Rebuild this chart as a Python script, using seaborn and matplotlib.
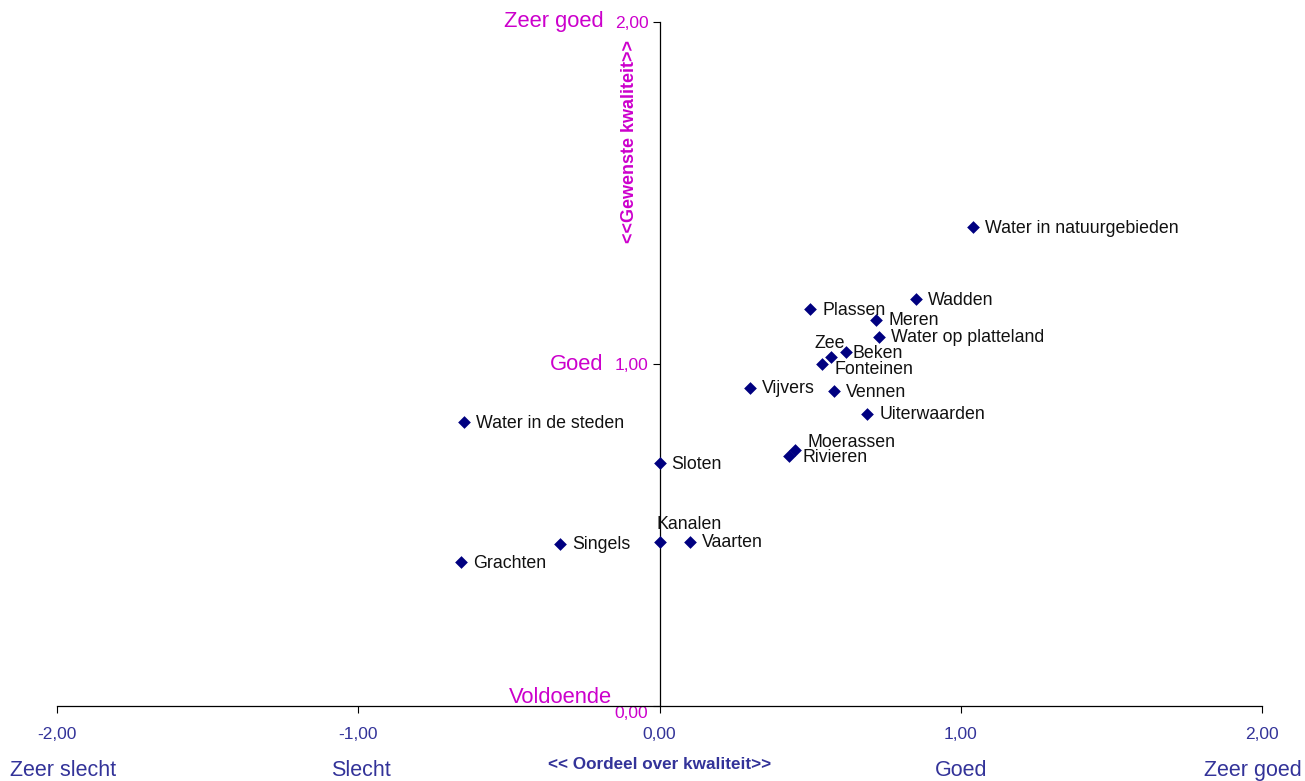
import numpy as np
import pandas as pd
import matplotlib
matplotlib.use("Agg")
import matplotlib.pyplot as plt
import seaborn as sns

# data
names = ["Water in natuurgebieden", "Wadden", "Plassen", "Meren", "Water op platteland",
         "Beken", "Zee", "Fonteinen", "Vijvers", "Vennen", "Uiterwaarden",
         "Water in de steden", "Moerassen", "Rivieren", "Sloten", "Kanalen",
         "Vaarten", "Singels", "Grachten"]
oordeel = [1.04, 0.85, 0.50, 0.72, 0.73, 0.62, 0.57, 0.54, 0.30, 0.58, 0.69,
           -0.65, 0.45, 0.43, 0.00, 0.00, 0.10, -0.33, -0.66]
gewenst = [1.40, 1.19, 1.16, 1.13, 1.08, 1.035, 1.02, 1.00, 0.93, 0.92, 0.855,
           0.83, 0.75, 0.73, 0.71, 0.48, 0.48, 0.475, 0.42]

x_ticks = [-2, -1, 0, 1, 2]
y_ticks = [0, 1, 2]
x_cat = ["Zeer slecht", "Slecht", "Goed", "Zeer goed"]
x_cat_pos = [-1.98, -0.99, 1.00, 1.97]
y_cat = ["Zeer goed", "Goed", "Voldoende"]
y_cat_pos = [2.0, 1.0, 0.025]

# label offsets in pixels (dx, dy, ha)
offsets = {
    "Zee": (-1, 5, "center"),
    "Kanalen": (-3, 17, "left"),
    "Moerassen": (12, 7, "left"),
    "Rivieren": (13, -1, "left"),
    "Fonteinen": (12, -6, "left"),
    "Beken": (6, -1, "left"),
}

df = pd.DataFrame({"naam": names, "x": oordeel, "y": gewenst})

sns.set_style("white")
plt.rcParams["font.family"] = ["Liberation Sans", "DejaVu Sans"]

blue = "#333399"
magenta = "#CC00CC"

fig = plt.figure(figsize=(13.05, 7.81), dpi=100)
ax = fig.add_axes([57 / 1305, 1 - 706 / 781, (1262 - 57) / 1305, (706 - 22) / 781])

sns.scatterplot(data=df, x="x", y="y", marker="D", s=42, color="#000080",
                edgecolor="#000080", linewidth=0, ax=ax, zorder=3)

for _, r in df.iterrows():
    dx, dy, ha = offsets.get(r["naam"], (12, -1, "left"))
    va = "bottom" if r["naam"] == "Zee" else "center"
    ax.annotate(r["naam"], (r["x"], r["y"]), xytext=(dx, dy), textcoords="offset pixels",
                ha=ha, va=va, fontsize=12.8, color="#111111")

ax.set_xlim(-2, 2)
ax.set_ylim(0, 2)
ax.spines["left"].set_position(("data", 0))
ax.spines["right"].set_visible(False)
ax.spines["top"].set_visible(False)
for s in ["left", "bottom"]:
    ax.spines[s].set_color("black")
    ax.spines[s].set_linewidth(0.9)

ax.set_xticks(x_ticks)
ax.set_xticklabels([f"{v:.2f}".replace(".", ",") for v in x_ticks])
ax.set_yticks(y_ticks)
ax.set_yticklabels([f"{v:.2f}".replace(".", ",") for v in y_ticks])
ax.tick_params(axis="x", bottom=True, direction="out", length=5, width=0.8, pad=10,
               labelsize=12.5, labelcolor=blue, color="black")
ax.tick_params(axis="y", left=True, direction="out", length=5, width=0.8, pad=3,
               labelsize=12.5, labelcolor=magenta, color="black")
ax.get_yticklabels()[0].set_va("top")
ax.set_xlabel("")
ax.set_ylabel("")

for lab, xp in zip(x_cat, x_cat_pos):
    ax.text(xp, -0.19, lab, ha="center", va="center", fontsize=15.5, color=blue)
ax.text(0, -0.17, "<< Oordeel over kwaliteit>>", ha="center", va="center",
        fontsize=12.3, fontweight="bold", color=blue)

for lab, yp in zip(y_cat, y_cat_pos):
    shift = -47 if lab == "Voldoende" else -56
    ax.annotate(lab, (0, yp), xytext=(shift, 0), textcoords="offset pixels",
                ha="right", va="center", fontsize=15.8, color=magenta)
ax.text(-0.10, 1.65, "<<Gewenste kwaliteit>>", rotation=90, ha="center", va="center",
        fontsize=13, fontweight="bold", color=magenta)

fig.savefig("out.png", dpi=100)
